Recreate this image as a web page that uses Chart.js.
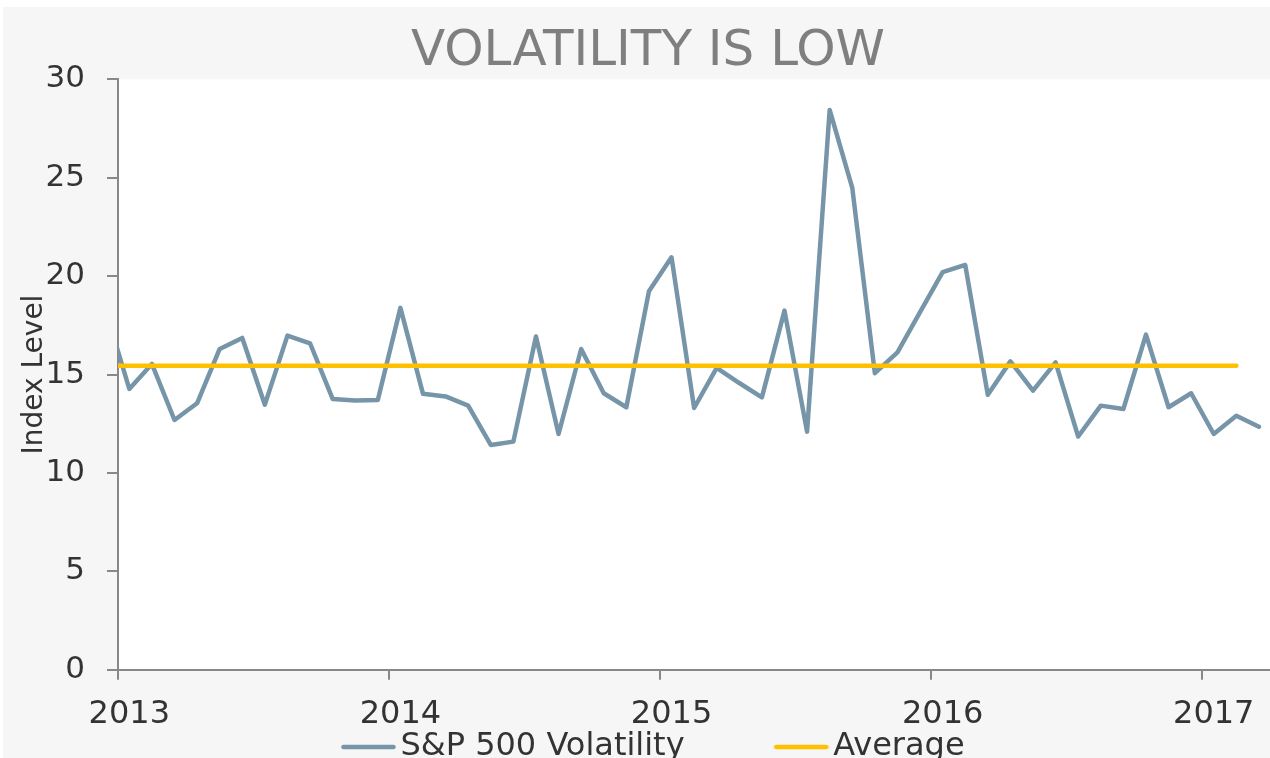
<!DOCTYPE html>
<html>
<head>
<meta charset="utf-8">
<title>Volatility is low</title>
<script src="https://cdn.jsdelivr.net/npm/chart.js@4.4.1/dist/chart.umd.min.js"></script>
<style>
    html, body { margin: 0; padding: 0; background: #ffffff; overflow: hidden; }
    #grafica { position: absolute; left: 3px; top: 7px; }
</style>
</head>
<body>
<canvas id="grafica" width="1290" height="766"></canvas>
<script>
const months = [
    '2012-12',
    '2013-01', '2013-02', '2013-03', '2013-04', '2013-05', '2013-06', '2013-07', '2013-08', '2013-09', '2013-10', '2013-11', '2013-12',
    '2014-01', '2014-02', '2014-03', '2014-04', '2014-05', '2014-06', '2014-07', '2014-08', '2014-09', '2014-10', '2014-11', '2014-12',
    '2015-01', '2015-02', '2015-03', '2015-04', '2015-05', '2015-06', '2015-07', '2015-08', '2015-09', '2015-10', '2015-11', '2015-12',
    '2016-01', '2016-02', '2016-03', '2016-04', '2016-05', '2016-06', '2016-07', '2016-08', '2016-09', '2016-10', '2016-11', '2016-12',
    '2017-01', '2017-02', '2017-03'
];
const volatility = [
    18.1,
    14.27, 15.54, 12.69, 13.54, 16.30, 16.86, 13.47, 16.98, 16.59, 13.76, 13.68, 13.71,
    18.39, 14.02, 13.89, 13.42, 11.42, 11.59, 16.93, 11.98, 16.30, 14.05, 13.34, 19.23,
    20.96, 13.30, 15.34, 14.57, 13.84, 18.25, 12.10, 28.45, 24.49, 15.07, 16.13, 18.17,
    20.20, 20.57, 13.97, 15.67, 14.18, 15.62, 11.85, 13.42, 13.25, 17.03, 13.34, 14.05,
    11.98, 12.91, 12.35
];
const averageMonths = ['2012-12', '2017-02'];
const averageValues = [15.45, 15.45];
const yearTicks = [2013, 2014, 2015, 2016, 2017];

// punto a mitad de mes
const toYear = m => {
    const [y, mo] = m.split('-').map(Number);
    return y + (mo - 0.5) / 12;
};

// muestra de linea para la leyenda (la linea va en la parte derecha de la imagen)
function legendLine(color) {
    const c = document.createElement('canvas');
    c.width = 76;
    c.height = 8;
    if (color) {
        const ctx = c.getContext('2d');
        ctx.strokeStyle = color;
        ctx.lineWidth = 4.5;
        ctx.lineCap = 'round';
        ctx.beginPath();
        ctx.moveTo(23.5, 4);
        ctx.lineTo(73.5, 4);
        ctx.stroke();
    }
    return c;
}

const fondo = {
    id: 'fondo',
    beforeDraw(chart) {
        const { ctx, chartArea: a, width, height } = chart;
        ctx.save();
        ctx.fillStyle = '#f6f6f6';
        ctx.fillRect(0, 0, width, height);
        ctx.fillStyle = '#ffffff';
        ctx.fillRect(a.left, a.top, a.right - a.left, a.bottom - a.top);
        ctx.restore();
    }
};

Chart.defaults.font.family = "'DejaVu Sans', Verdana, sans-serif";

const axisGray = '#888888';
const textDark = '#333333';

new Chart(document.getElementById('grafica'), {
    type: 'line',
    data: {
        datasets: [
            {
                label: 'S&P 500 Volatility',
                data: months.map((m, i) => ({ x: toYear(m), y: volatility[i] })),
                borderColor: '#7795a8',
                backgroundColor: '#7795a8',
                borderWidth: 4.5,
                borderJoinStyle: 'round',
                borderCapStyle: 'round',
                pointRadius: 0,
                tension: 0,
                clip: 0,
                order: 1
            },
            {
                label: 'Average',
                data: averageMonths.map((m, i) => ({ x: toYear(m), y: averageValues[i] })),
                borderColor: '#ffc000',
                backgroundColor: '#ffc000',
                borderWidth: 4.5,
                borderCapStyle: 'round',
                pointRadius: 0,
                clip: 0,
                order: 0
            }
        ]
    },
    options: {
        responsive: false,
        animation: false,
        events: [],
        scales: {
            x: {
                type: 'linear',
                min: 2013,
                max: 2017.334,
                afterBuildTicks: s => { s.ticks = yearTicks.map(v => ({ value: v })); },
                afterFit: s => { s.height = 56; },
                grid: { drawOnChartArea: false, tickLength: 10, lineWidth: 2, color: axisGray },
                border: { color: axisGray, width: 2 },
                ticks: {
                    callback: v => String(v),
                    labelOffset: 11.3,
                    padding: 16,
                    maxRotation: 0,
                    autoSkip: false,
                    color: textDark,
                    font: { size: 32 }
                }
            },
            y: {
                min: 0,
                max: 30,
                afterFit: s => { s.width = 115; },
                grid: { drawOnChartArea: false, tickLength: 11, lineWidth: 2, color: axisGray },
                border: { color: axisGray, width: 2 },
                ticks: { stepSize: 5, padding: 22, color: textDark, font: { size: 31 } },
                title: {
                    display: true,
                    text: 'Index Level',
                    color: textDark,
                    font: { size: 28 },
                    padding: { top: 15, bottom: 0 }
                }
            }
        },
        plugins: {
            title: {
                display: true,
                text: 'VOLATILITY IS LOW',
                color: '#7f7f7f',
                font: { size: 50, weight: 'normal' },
                padding: { top: 14.85, bottom: -2.45 }
            },
            legend: {
                position: 'bottom',
                labels: {
                    usePointStyle: true,
                    pointStyleWidth: 53,
                    padding: 5.3,
                    color: textDark,
                    font: { size: 32 },
                    generateLabels: chart => {
                        const items = Chart.defaults.plugins.legend.labels.generateLabels(chart)
                            .sort((a, b) => a.datasetIndex - b.datasetIndex);
                        items.forEach(it => { it.pointStyle = legendLine(it.strokeStyle); });
                        // hueco entre las dos entradas
                        items.splice(1, 0, { text: '', pointStyle: legendLine(null), hidden: false, lineWidth: 0 });
                        return items;
                    }
                }
            },
            tooltip: { enabled: false }
        }
    },
    plugins: [fondo]
});
</script>
</body>
</html>
